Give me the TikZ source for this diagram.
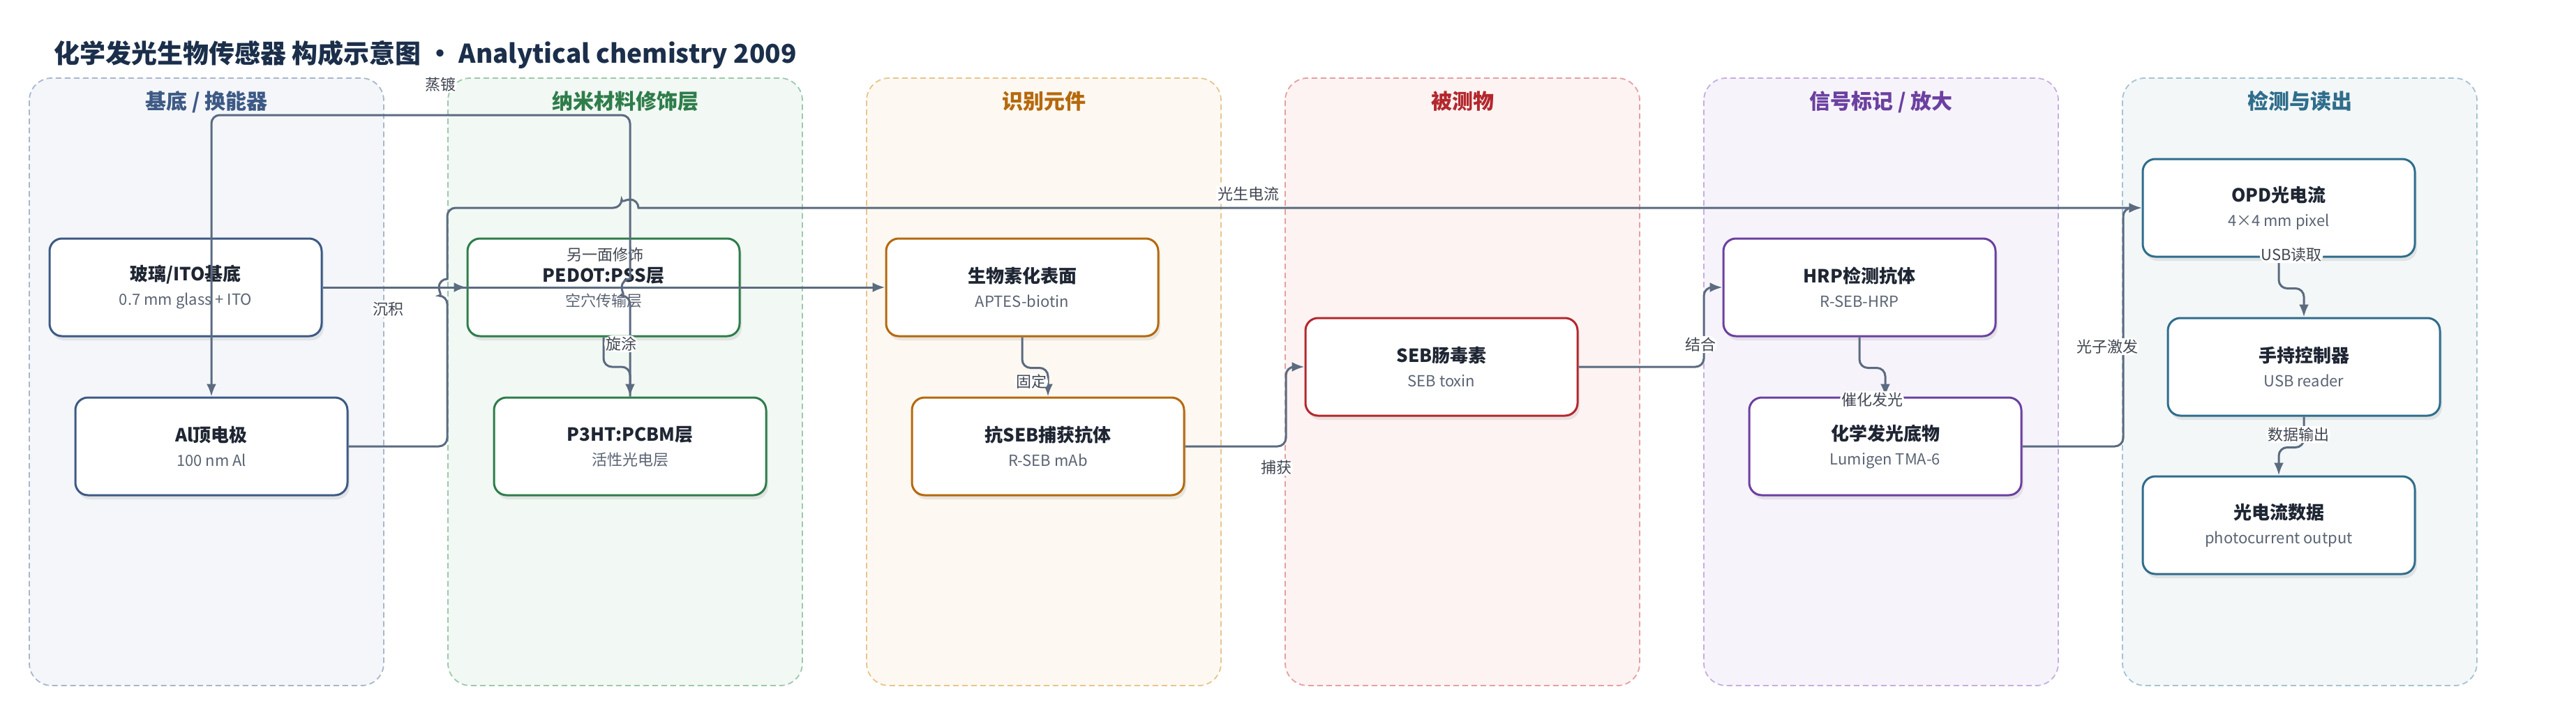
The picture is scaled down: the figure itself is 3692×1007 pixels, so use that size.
\documentclass[tikz,border=0pt]{standalone}
\usepackage{fontspec}
\setmainfont{Noto Sans CJK SC}
\usepackage{tikz}
\usetikzlibrary{arrows.meta,shadows}

\definecolor{edgeC}{HTML}{5B6B80}
\definecolor{mainC}{HTML}{1F2633}
\definecolor{subC}{HTML}{5B6474}
\definecolor{titleC}{HTML}{1B2F4B}
\definecolor{cA}{HTML}{3D5A85}\definecolor{bA}{HTML}{A9B6CC}\definecolor{fA}{HTML}{F4F6FA}
\definecolor{cB}{HTML}{2E7D4A}\definecolor{bB}{HTML}{9CC9AC}\definecolor{fB}{HTML}{F2F8F4}
\definecolor{cC}{HTML}{B5690C}\definecolor{bC}{HTML}{E8C48E}\definecolor{fC}{HTML}{FDF8F1}
\definecolor{cD}{HTML}{B3282D}\definecolor{bD}{HTML}{E5A0A0}\definecolor{fD}{HTML}{FDF3F2}
\definecolor{cE}{HTML}{6B40A0}\definecolor{bE}{HTML}{C5AEE0}\definecolor{fE}{HTML}{F7F3FB}
\definecolor{cF}{HTML}{2F6D8C}\definecolor{bF}{HTML}{A4C4D2}\definecolor{fF}{HTML}{F3F7F8}

\newcommand{\hd}[1]{{\fontsize{26}{35}\selectfont\bfseries\color{mainC}#1}}

\tikzset{
  grp/.style 2 args={draw=#1, fill=#2, dash pattern=on 8pt off 5pt, line width=1.8pt, rounded corners=32pt},
  grptitle/.style={font=\fontsize{30}{36}\selectfont\bfseries, text=#1, anchor=base, inner sep=0pt},
  box/.style={draw=#1, line width=3pt, fill=white, rounded corners=18pt,
    minimum width=390pt, minimum height=140pt, align=center,
    font=\fontsize{22}{35}\selectfont, text=subC,
    drop shadow={opacity=0.16, shadow xshift=3pt, shadow yshift=-6pt}},
  link/.style={draw=edgeC, line width=3pt, -{Latex[length=18pt,width=14pt]}, rounded corners=12pt},
  lbl/.style={fill=white, inner sep=2pt, font=\fontsize{22}{26}\selectfont, text=mainC!85}
}

\begin{document}
\begin{tikzpicture}[x=1pt, y=-1pt]
\useasboundingbox (0,0) rectangle (3692,1007);

% title
\node[font=\fontsize{37}{44}\selectfont\bfseries, text=titleC, anchor=base west, inner sep=0pt] (title) at (77,90)
  {化学发光生物传感器 构成示意图 · Analytical chemistry 2009};

% groups
\draw[grp={bA}{fA}] (42,112) rectangle (550,983);
\draw[grp={bB}{fB}] (642,112) rectangle (1150,983);
\draw[grp={bC}{fC}] (1242,112) rectangle (1750,983);
\draw[grp={bD}{fD}] (1842,112) rectangle (2350,983);
\draw[grp={bE}{fE}] (2442,112) rectangle (2950,983);
\draw[grp={bF}{fF}] (3042,112) rectangle (3550,983);
\node[grptitle=cA] (gA) at (296,156) {基底 / 换能器};
\node[grptitle=cB] (gB) at (896,156) {纳米材料修饰层};
\node[grptitle=cC] (gC) at (1496,156) {识别元件};
\node[grptitle=cD] (gD) at (2096,156) {被测物};
\node[grptitle=cE] (gE) at (2696,156) {信号标记 / 放大};
\node[grptitle=cF] (gF) at (3296,156) {检测与读出};

% nodes
\node[box=cA] (ito) at (266,412) {\hd{玻璃/ITO基底}\\0.7 mm glass + ITO};
\node[box=cA] (al) at (303,640) {\hd{Al顶电极}\\100 nm Al};
\node[box=cB] (pedot) at (865,412) {\hd{PEDOT:PSS层}\\空穴传输层};
\node[box=cB] (p3ht) at (903,640) {\hd{P3HT:PCBM层}\\活性光电层};
\node[box=cC] (bio) at (1465,412) {\hd{生物素化表面}\\APTES-biotin};
\node[box=cC] (abcap) at (1502,640) {\hd{抗SEB捕获抗体}\\R-SEB mAb};
\node[box=cD] (seb) at (2066,526) {\hd{SEB肠毒素}\\SEB toxin};
\node[box=cE] (hrp) at (2665,412) {\hd{HRP检测抗体}\\R-SEB-HRP};
\node[box=cE] (sub) at (2702,640) {\hd{化学发光底物}\\Lumigen TMA-6};
\node[box=cF] (opd) at (3266,298) {\hd{OPD光电流}\\4×4 mm pixel};
\node[box=cF] (ctrl) at (3302,526) {\hd{手持控制器}\\USB reader};
\node[box=cF] (data) at (3266,753) {\hd{光电流数据}\\photocurrent output};

% connectors
\draw[link] (ito.east) -- (pedot.west) node[lbl] at (556,443) {沉积};
\draw[link] (ito.east) -- (bio.west) node[lbl] at (867,365) {另一面修饰};
\draw[link] (p3ht.north) -- (903,424) [sharp corners] arc[start angle=270, end angle=90, radius=12pt]
  [rounded corners=12pt] -- (903,165) -- (303,165) -- (al.north) node[lbl] at (631,121) {蒸镀};
\draw[link] (pedot.south) -- (865,526) -| (p3ht.north) node[lbl] at (890,493) {旋涂};
\draw[link] (al.east) -- (641,640) -- (641,424) [sharp corners] arc[start angle=270, end angle=90, radius=12pt]
  [rounded corners=12pt] -- (641,298) -- (891,298) [sharp corners] arc[start angle=180, end angle=0, radius=12pt]
  -- (opd.west) node[lbl] at (1789,278) {光生电流};
\draw[link] (bio.south) -- ++(0,44) -| (abcap.north) node[lbl] at (1478,547) {固定};
\draw[link] (abcap.east) -- (1843,640) |- (seb.west) node[lbl] at (1829,670) {捕获};
\draw[link] (seb.east) -- (2442,526) |- (hrp.west) node[lbl] at (2437,494) {结合};
\draw[link] (hrp.south) -- ++(0,44) -| (sub.north) node[lbl] at (2683,573) {催化发光};
\draw[link] (sub.east) -- (3043,640) |- (opd.west) node[lbl] at (3020,497) {光子激发};
\draw[link] (opd.south) -- ++(0,44) -| (ctrl.north) node[lbl] at (3284,365) {USB读取};
\draw[link] (ctrl.south) -- ++(0,44) -| (data.north) node[lbl] at (3294,623) {数据输出};
\end{tikzpicture}
\end{document}
